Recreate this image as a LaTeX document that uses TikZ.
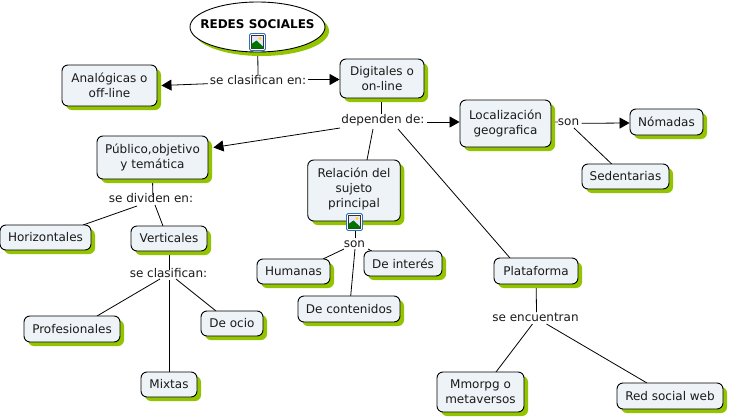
\documentclass[tikz,border=0pt]{standalone}
\usepackage{fontspec}
\setmainfont{DejaVu Sans}
\usetikzlibrary{shapes.geometric,shadows,backgrounds,arrows.meta,calc}
\definecolor{shgreen}{HTML}{92C500}
\definecolor{boxfill}{HTML}{EDF3F6}
\definecolor{txt}{HTML}{1A1A1A}
\definecolor{iconblue}{HTML}{2F6FC4}
\newcommand{\picicon}[1]{%
\begin{scope}[shift={(#1)}]
\draw[draw=iconblue,fill=white,rounded corners=1.5pt,line width=.8pt] (-8,-8.5) rectangle (8,8.5);
\draw[draw=black!80,fill=blue!10,line width=.5pt] (-6,-6.5) rectangle (6,6.5);
\fill[yellow!80!orange] (2.5,-3.5) circle (1.6);
\fill[green!45!black] (-6,6.5) -- (-6,2) -- (-1,-1.5) -- (6,5) -- (6,6.5) -- cycle;
\end{scope}}
\tikzset{
 x=1pt,y=-1pt,
 every node/.style={text=txt,font=\fontsize{12}{15}\selectfont},
 box/.style={draw=black,line width=.9pt,fill=boxfill,rounded corners=6pt,align=center,inner sep=0pt,
   drop shadow={shadow xshift=4pt,shadow yshift=-4pt,fill=shgreen,opacity=1}},
 lbl/.style={inner sep=1pt,align=center},
 conn/.style={draw=black,line width=.8pt},
 arr/.style={conn,-{Triangle[length=10pt,width=11pt]}},
}
\begin{document}
\begin{tikzpicture}
\useasboundingbox (0,0) rectangle (729,418);
\node[box,shape=ellipse,fill=white,minimum width=135pt,minimum height=50pt,text=black,font=\fontsize{12}{15}\selectfont\bfseries] (redes) at (257.5,27) {\raisebox{-1.5pt}[0pt][0pt]{\makebox[0pt]{REDES SOCIALES}}};
\node[box,minimum width=95pt,minimum height=41pt] (analog) at (109.5,85.5) {Analógicas o\\off-line};
\node[box,minimum width=84pt,minimum height=39pt] (digit) at (382,78.5) {Digitales o\\on-line};
\node[box,minimum width=91pt,minimum height=47pt] (local) at (505.5,123.5) {Localización\\geografica};
\node[box,minimum width=73pt,minimum height=26pt] (nomad) at (666.5,122) {Nómadas};
\node[box,minimum width=87pt,minimum height=25pt] (seden) at (625.5,176.5) {Sedentarias};
\node[box,minimum width=111pt,minimum height=43pt] (public) at (152.5,157.5) {Público,objetivo\\y temática};
\node[box,minimum width=92.5pt,minimum height=61pt] (relac) at (354,190.5) {Relación del\\sujeto\\principal\\[-10pt]\mbox{}};
\node[box,minimum width=73pt,minimum height=25pt] (human) at (293.5,271.5) {Humanas};
\node[box,minimum width=78pt,minimum height=25pt] (inter) at (403,263.5) {De interés};
\node[box,minimum width=102pt,minimum height=26pt] (conten) at (349,309) {De contenidos};
\node[box,minimum width=91pt,minimum height=25pt] (horiz) at (45.5,237.5) {Horizontales};
\node[box,minimum width=76pt,minimum height=25pt] (verti) at (169,238.5) {Verticales};
\node[box,minimum width=96pt,minimum height=26pt] (profe) at (72,329) {Profesionales};
\node[box,minimum width=62pt,minimum height=25pt] (ocio) at (232,323.5) {De ocio};
\node[box,minimum width=56pt,minimum height=25pt] (mixta) at (169,384.5) {Mixtas};
\node[box,minimum width=84pt,minimum height=26pt] (plata) at (536,271) {Plataforma};
\node[box,minimum width=87pt,minimum height=40pt] (mmorpg) at (480.5,392) {Mmorpg o\\metaversos};
\node[box,minimum width=106pt,minimum height=26pt] (redweb) at (670,396) {Red social web};
\picicon{257.5,42}
\picicon{354.5,222}
\node[lbl] (l1) at (258,80) {se clasifican en:};
\node[lbl] (l2) at (383,120) {dependen de:};
\node[lbl] (l3) at (568.5,122) {son};
\node[lbl] (l4) at (151,198) {se dividen en:};
\node[lbl] (l5) at (168.5,273) {se clasifican:};
\node[lbl] (l6) at (354.5,244) {son};
\node[lbl] (l7) at (535.5,317) {se encuentran};
\begin{scope}[on background layer]
\fill[white] (0,0) rectangle (729,418);
\draw[conn] (redes) -- ($(l1)+(0,-5)$);
\draw[arr] ($(l1)+(-50,3.7)$) -- ($(analog.east)+(4,0)$);
\draw[arr] ($(l1)+(50,-.5)$) -- ($(digit.west)+(0,1)$);
\draw[conn] ($(digit)+(-1,0)$) -- ($(l2)+(-2,-6)$);
\draw[arr] ($(l2)+(-43,8)$) -- ($(public.east)+(5,-10)$);
\draw[conn] ($(l2)+(-10,9)$) -- ($(relac)+(13,-30.5)$);
\draw[conn] ($(l2)+(15,9)$) -- ($(plata)+(-26,-13)$);
\draw[arr] ($(l2)+(44,2)$) -- ($(local.west)+(0,-1.5)$);
\draw[conn,draw=red!55!black] (local) -- ($(l3)+(-10.5,0)$);
\draw[arr] ($(l3)+(13,1.3)$) -- ($(nomad.west)+(0,1)$);
\draw[conn] ($(l3)+(5.5,6)$) -- ($(seden)+(-13.8,-12.5)$);
\draw[conn] (public) -- ($(l4)+(1.7,-3)$);
\draw[conn] ($(l4)+(-14,8)$) -- ($(horiz)+(37.5,-12.5)$);
\draw[conn] ($(l4)+(4,7)$) -- ($(verti)+(-6,-12.5)$);
\draw[conn] ($(verti)+(.3,0)$) -- ($(l5)+(.8,-3)$);
\draw[conn] ($(l5)+(-8.5,6)$) -- ($(profe)+(25,-13)$);
\draw[conn] ($(l5)+(7.5,6)$) -- ($(ocio)+(-16,-12.5)$);
\draw[conn] ($(l5)+(.8,7)$) -- ($(mixta)+(.3,-12.5)$);
\draw[conn] ($(relac)+(1.7,0)$) -- ($(l6)+(1,-6)$);
\draw[conn] ($(l6)+(-10.5,5)$) -- ($(human)+(29.5,-12.5)$);
\draw[conn] ($(l6)+(13.5,5)$) -- ($(inter)+(-31.3,-12.5)$);
\draw[conn] ($(l6)+(.5,5)$) -- ($(conten)+(1.7,-13)$);
\draw[conn] ($(plata)+(0,0)$) -- ($(l7)+(1,-5)$);
\draw[conn] ($(l7)+(-3,7)$) -- ($(mmorpg)+(15.5,-20)$);
\draw[conn] ($(l7)+(11,7)$) -- ($(redweb)+(-23,-13)$);
\end{scope}
\end{tikzpicture}
\end{document}
